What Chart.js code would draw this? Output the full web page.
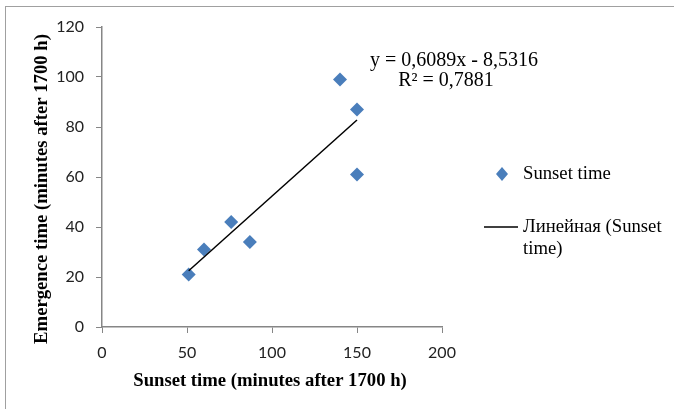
<!DOCTYPE html>
<html>
<head>
<meta charset="utf-8">
<script src="https://cdn.jsdelivr.net/npm/chart.js@4.4.0/dist/chart.umd.min.js"></script>
<style>
  html, body { margin: 0; padding: 0; background: #fff; }
  #wrap { width: 674px; height: 409px; position: relative; }
</style>
</head>
<body>
<div id="wrap"><canvas id="chart"></canvas></div>
<script>
// Données
const sunsetX = [51, 60, 76, 87, 140, 150, 150];
const emergenceY = [21, 31, 42, 34, 99, 87, 61];
const trendX = [51, 150];
const trendY = [22.5, 82.8];
const xTicks = [0, 50, 100, 150, 200];
const yTicks = [0, 20, 40, 60, 80, 100, 120];

const seriesName = "Sunset time";
const trendName = ["Линейная (Sunset", "time)"];
const equationText = "y = 0,6089x - 8,5316";
const r2Text = "R² = 0,7881";
const xTitle = "Sunset time (minutes after 1700 h)";
const yTitle = "Emergence time (minutes after 1700 h)";

const blue = "#4a7ebb";
const axisGray = "#868686";
const serif = "'Liberation Serif', 'Times New Roman', serif";

// Dessin du cadre, titres, légende et équation
const decor = {
  id: "decor",
  beforeDraw(chart) {
    const ctx = chart.ctx;
    ctx.save();
    ctx.fillStyle = "#fff";
    ctx.fillRect(0, 0, chart.width, chart.height);
    ctx.strokeStyle = "#a0a0a0";
    ctx.lineWidth = 1;
    ctx.strokeRect(5.5, 6.5, 700, 420);
    ctx.restore();
  },
  afterDraw(chart) {
    const ctx = chart.ctx;
    const area = chart.chartArea;
    ctx.save();
    ctx.fillStyle = "#000";

    // titres des axes
    ctx.font = "bold 18.7px " + serif;
    ctx.textAlign = "center";
    ctx.textBaseline = "middle";
    ctx.fillText(xTitle, (area.left + area.right) / 2 - 2, 381);
    ctx.save();
    ctx.translate(42, 189);
    ctx.rotate(-Math.PI / 2);
    ctx.fillText(yTitle, 0, 0);
    ctx.restore();

    // équation de tendance
    ctx.font = "20px " + serif;
    ctx.fillText(equationText, 454, 61);
    ctx.fillText(r2Text, 446, 81);

    // légende
    ctx.font = "18.7px " + serif;
    ctx.textAlign = "left";
    ctx.fillStyle = blue;
    ctx.beginPath();
    ctx.moveTo(502, 167);
    ctx.lineTo(508, 174);
    ctx.lineTo(502, 181);
    ctx.lineTo(496, 174);
    ctx.closePath();
    ctx.fill();
    ctx.fillStyle = "#000";
    ctx.fillText(seriesName, 523, 174);

    ctx.strokeStyle = "#000";
    ctx.lineWidth = 1.5;
    ctx.beginPath();
    ctx.moveTo(484, 227);
    ctx.lineTo(518, 227);
    ctx.stroke();
    ctx.fillText(trendName[0], 523, 227);
    ctx.fillText(trendName[1], 523, 249);
    ctx.restore();
  }
};

const ctx = document.getElementById("chart").getContext("2d");
new Chart(ctx, {
  type: "scatter",
  data: {
    datasets: [
      {
        label: seriesName,
        data: sunsetX.map((x, i) => ({ x, y: emergenceY[i] })),
        pointStyle: "rectRot",
        pointRadius: 7,
        pointHoverRadius: 7,
        backgroundColor: blue,
        borderColor: blue,
        borderWidth: 0,
        order: 2
      },
      {
        label: trendName.join(" "),
        type: "line",
        data: trendX.map((x, i) => ({ x, y: trendY[i] })),
        borderColor: "#000",
        borderWidth: 1.5,
        pointRadius: 0,
        fill: false,
        order: 1
      }
    ]
  },
  options: {
    responsive: true,
    maintainAspectRatio: false,
    animation: false,
    layout: { padding: { left: 0, right: 232, top: 27, bottom: 0 } },
    plugins: { legend: { display: false }, tooltip: { enabled: false } },
    scales: {
      x: {
        type: "linear",
        min: 0, max: 200,
        afterBuildTicks: s => { s.ticks = xTicks.map(v => ({ value: v })); },
        afterFit: s => { s.height = 82; },
        grid: { drawOnChartArea: false, drawTicks: true, tickLength: 6, color: axisGray },
        border: { color: axisGray, width: 1.5 },
        ticks: { font: { family: "Lato, 'Open Sans', sans-serif", size: 16 }, color: "#222", padding: 10 }
      },
      y: {
        type: "linear",
        min: 0, max: 120,
        afterBuildTicks: s => { s.ticks = yTicks.map(v => ({ value: v })); },
        afterFit: s => { s.width = 102; },
        grid: { drawOnChartArea: false, drawTicks: true, tickLength: 6, color: axisGray },
        border: { color: axisGray, width: 1.5 },
        ticks: { font: { family: "Lato, 'Open Sans', sans-serif", size: 16 }, color: "#222", padding: 12 }
      }
    }
  },
  plugins: [decor]
});
</script>
</body>
</html>
